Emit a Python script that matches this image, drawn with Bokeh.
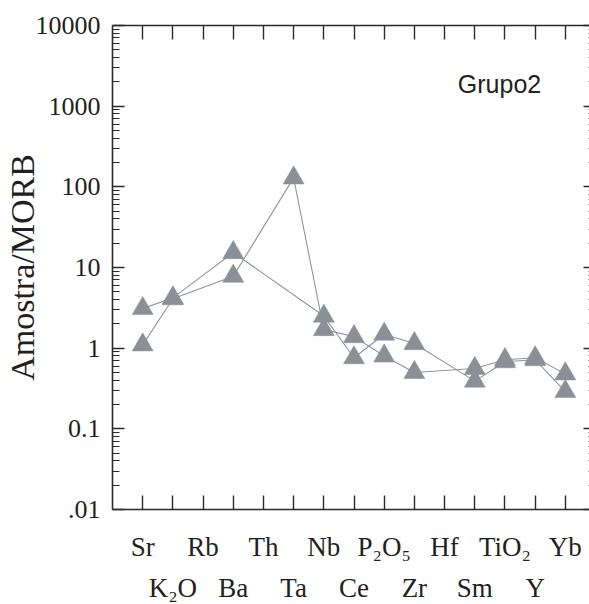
from bokeh.plotting import figure
from bokeh.models import FixedTicker, LinearAxis, LogAxis, Label, Range1d, ColumnDataSource
from bokeh.embed import file_html
from bokeh.resources import INLINE

# ---- data ----
categories = ["Sr", "K\u2082O", "Rb", "Ba", "Th", "Ta", "Nb", "Ce", "P\u2082O\u2085", "Zr", "Hf", "Sm", "TiO\u2082", "Y", "Yb"]
series_a = [3.1, 4.2, None, 15.3, None, None, 2.5, 0.76, 1.49, 1.14, None, 0.39, 0.68, 0.72, 0.29]
series_b = [1.1, 4.1, None, 7.8, None, 129.0, 1.7, 1.39, 0.80, 0.50, None, 0.56, 0.72, 0.76, 0.48]
y_ticks = [0.01, 0.1, 1, 10, 100, 1000, 10000]
y_tick_labels = [".01", "0.1", "1", "10", "100", "1000", "10000"]
group_label = "Grupo2"
y_title = "Amostra/MORB"

TEXT = "#231f20"
AXIS = "#2b2b2b"
MARK = "#8a9096"
LINE = "#8f959b"
SERIF = "Liberation Serif"

p = figure(frame_width=483, frame_height=484,
           x_range=Range1d(-1, 15), y_range=Range1d(0.01, 10000),
           y_axis_type="log", output_backend="svg", toolbar_location=None,
           min_border_left=105, min_border_right=1, min_border_top=25, min_border_bottom=95,
           background_fill_color="white", border_fill_color="white", outline_line_color=None)
p.xgrid.visible = False
p.ygrid.visible = False

idx = list(range(len(categories)))
minor = [m * 10.0 ** e for e in range(-2, 4) for m in range(2, 10)]
yticker = FixedTicker(ticks=y_ticks, minor_ticks=minor)


def style_axis(ax):
    ax.axis_line_color = AXIS
    ax.axis_line_width = 1.6
    ax.major_tick_line_color = AXIS
    ax.major_tick_line_width = 1.4
    ax.minor_tick_line_color = AXIS
    ax.minor_tick_line_width = 1.2
    ax.major_tick_out = 0
    ax.minor_tick_out = 0
    ax.major_label_text_color = TEXT
    ax.major_label_text_font = SERIF


# bottom axis, first row of names
xb = p.xaxis[0]
xb.ticker = FixedTicker(ticks=idx)
xb.major_label_overrides = {i: (categories[i] if i % 2 == 0 else "") for i in idx}
style_axis(xb)
xb.major_tick_in = 14
xb.major_label_text_font_size = "27px"
xb.major_label_standoff = 22

# bottom, second row of names
xb2 = LinearAxis(ticker=FixedTicker(ticks=[i for i in idx if i % 2 == 1]))
xb2.major_label_overrides = {i: categories[i] for i in idx if i % 2 == 1}
style_axis(xb2)
xb2.axis_line_color = None
xb2.major_tick_line_color = None
xb2.major_tick_in = 0
xb2.major_label_text_font_size = "27px"
xb2.major_label_standoff = 8
p.add_layout(xb2, "below")

# top axis, ticks only
xt = LinearAxis(ticker=FixedTicker(ticks=idx))
xt.major_label_overrides = {i: "" for i in idx}
style_axis(xt)
xt.major_tick_in = 14
xt.major_label_standoff = 0
p.add_layout(xt, "above")

# left axis
yl = p.yaxis[0]
yl.ticker = yticker
yl.major_label_overrides = {t: l for t, l in zip(y_ticks, y_tick_labels)}
style_axis(yl)
yl.major_tick_in = 12
yl.minor_tick_in = 7
yl.major_label_text_font_size = "26px"
yl.major_label_standoff = 12
yl.axis_label = y_title
yl.axis_label_text_font = SERIF
yl.axis_label_text_font_size = "34px"
yl.axis_label_text_font_style = "normal"
yl.axis_label_text_color = TEXT
yl.axis_label_standoff = -8

# right axis, ticks only
yr = LogAxis(ticker=yticker)
yr.major_label_overrides = {t: "" for t in y_ticks}
style_axis(yr)
yr.major_tick_in = 12
yr.minor_tick_in = 7
yr.major_label_standoff = 0
p.add_layout(yr, "right")

# data
sources = []
for s in (series_a, series_b):
    xs = [i for i, v in zip(idx, s) if v is not None]
    ys = [v for v in s if v is not None]
    sources.append(ColumnDataSource(dict(x=xs, y=ys)))

for src in sources:
    p.line("x", "y", source=src, line_color=LINE, line_width=1.1)
for src in sources:
    p.scatter("x", "y", source=src, marker="triangle", size=21,
              fill_color=MARK, line_color=MARK, line_width=0.5)

p.add_layout(Label(x=387, y=426, x_units="screen", y_units="screen", text=group_label,
                   text_align="center", text_baseline="alphabetic",
                   text_font="Liberation Sans", text_font_size="25px", text_color=TEXT))

open("out.html", "w").write(file_html(p, INLINE))
